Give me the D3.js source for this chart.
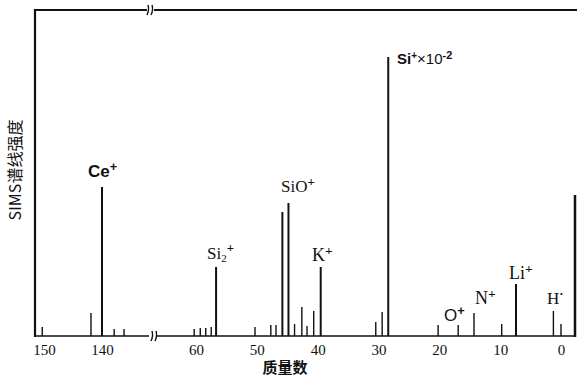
<!DOCTYPE html>
<html>
<head>
<meta charset="utf-8">
<script src="https://d3js.org/d3.v7.min.js"></script>
<style>
  body { margin: 0; background: #fff; }
  text { fill: #111; }
</style>
</head>
<body>
<svg width="577" height="378"></svg>
<script>
// heavy-mass segment (left of the axis break)
var massHigh = [150.3, 141.9, 140, 137.9, 136.2];
var intenHigh = [9, 23, 149, 7, 7];
// light-mass segment (right of the axis break)
var massLow = [60.3, 59.3, 58.4, 57.5, 56.7, 50.3, 47.7, 46.85, 45.8, 44.8, 43.8, 42.6, 41.75, 40.65, 39.5,
               30.45, 29.4, 28.4, 20.2, 16.9, 14.3, 9.75, 7.4, 1.25, 0];
var intenLow = [7, 8, 8, 9, 69, 9, 11, 11, 124, 133, 12, 29, 10, 25, 69,
                14, 24, 279, 11, 11, 23, 12, 52, 25, 12];
var ticksHigh = [150, 140];
var ticksLow = [60, 50, 40, 30, 20, 10, 0];

var svg = d3.select("svg");
var x1 = d3.scaleLinear().domain([150, 140]).range([44, 102]);
var x2 = d3.scaleLinear().domain([60, 0]).range([196, 561]);
var y = d3.scaleLinear().domain([0, 326]).range([336, 10]);

var serif = "'Liberation Serif', 'DejaVu Serif', serif";
var sans = "'Liberation Sans', Arial, sans-serif";

// frame
svg.append("line").attr("x1", 35).attr("x2", 35).attr("y1", 9).attr("y2", 337)
  .attr("stroke", "#111").attr("stroke-width", 2.2);
svg.append("line").attr("x1", 34).attr("x2", 147).attr("y1", 10).attr("y2", 10)
  .attr("stroke", "#111").attr("stroke-width", 2.2);
svg.append("line").attr("x1", 154).attr("x2", 577).attr("y1", 10).attr("y2", 10)
  .attr("stroke", "#111").attr("stroke-width", 1.8);
svg.append("line").attr("x1", 34).attr("x2", 149).attr("y1", 336).attr("y2", 336)
  .attr("stroke", "#111").attr("stroke-width", 1.6);
svg.append("line").attr("x1", 156).attr("x2", 575).attr("y1", 336).attr("y2", 336)
  .attr("stroke", "#111").attr("stroke-width", 1.6);
svg.append("line").attr("x1", 575).attr("x2", 575).attr("y1", 195).attr("y2", 337)
  .attr("stroke", "#111").attr("stroke-width", 2.5);

// break marks
[[148, 10], [152, 336]].forEach(function(p) {
  [0, 4].forEach(function(o) {
    svg.append("path")
      .attr("d", "M" + (p[0] + o - 1) + "," + (p[1] + 5) + " Q" + (p[0] + o + 1.5) + "," + p[1] + " " + (p[0] + o) + "," + (p[1] - 5))
      .attr("fill", "none").attr("stroke", "#111").attr("stroke-width", 1.4);
  });
});

// axis tick labels
svg.append("g").attr("transform", "translate(0,336)")
  .call(d3.axisBottom(x1).tickValues(ticksHigh).tickSize(0).tickPadding(8));
svg.append("g").attr("transform", "translate(0,336)")
  .call(d3.axisBottom(x2).tickValues(ticksLow).tickSize(0).tickPadding(8));
svg.selectAll(".domain").remove();
svg.selectAll(".tick text")
  .style("font-family", serif)
  .style("font-size", "15px").attr("fill", "#111");

// peaks
function drawPeaks(masses, vals, xs) {
  svg.append("g").selectAll("line")
    .data(masses)
    .enter()
    .append("line")
    .attr("x1", function(d) { return xs(d); })
    .attr("x2", function(d) { return xs(d); })
    .attr("y1", y(0))
    .attr("y2", function(d, i) { return y(vals[i]); })
    .attr("stroke", "#111")
    .attr("stroke-width", function(d, i) { return vals[i] > 40 ? 2 : 1.4; });
}
drawPeaks(massHigh, intenHigh, x1);
drawPeaks(massLow, intenLow, x2);

// peak labels
function label(xp, yp, base, sup, sub, font, size, weight) {
  var t = svg.append("text").attr("x", xp).attr("y", yp)
    .attr("font-family", font).attr("font-size", size + "px")
    .attr("font-weight", weight || "normal");
  t.append("tspan").text(base);
  if (sub) {
    t.append("tspan").attr("dy", 3).attr("font-size", (size * 0.65) + "px").text(sub);
    t.append("tspan").attr("dy", -10).attr("font-size", (size * 0.75) + "px").attr("font-weight", "bold").text(sup);
  } else if (sup) {
    t.append("tspan").attr("dy", -6).attr("font-size", (size * 0.75) + "px").attr("font-weight", "bold").text(sup);
  }
  return t;
}
label(88, 177, "Ce", "+", null, sans, 17, "bold");
label(207, 259, "Si", "+", "2", serif, 17);
label(281, 192, "SiO", "+", null, serif, 17);
label(312, 261, "K", "+", null, serif, 18);
label(444, 321, "O", "+", null, sans, 17);
label(475, 304, "N", "+", null, serif, 18);
label(509, 279, "Li", "+", null, serif, 18);
label(547, 304, "H", "·", null, serif, 17);

var sl = svg.append("text").attr("x", 397).attr("y", 64)
  .attr("font-family", sans).attr("font-size", "15px").attr("font-weight", "bold");
sl.append("tspan").text("Si");
sl.append("tspan").attr("dy", -5).attr("font-size", "10px").text("+");
sl.append("tspan").attr("dy", 5).attr("font-weight", "normal").text("×10");
sl.append("tspan").attr("dy", -5).attr("font-size", "11px").text("-2");

// axis titles
svg.append("text")
  .attr("transform", "translate(21,170) rotate(-90)")
  .attr("text-anchor", "middle")
  .attr("font-family", "'Noto Sans CJK SC', serif")
  .attr("font-size", "16px")
  .text("SIMS谱线强度");
svg.append("text")
  .attr("x", 285).attr("y", 373)
  .attr("text-anchor", "middle")
  .attr("font-family", "'Noto Sans CJK SC', serif")
  .attr("font-size", "15px").attr("font-weight", "bold")
  .text("质量数");
</script>
</body>
</html>
